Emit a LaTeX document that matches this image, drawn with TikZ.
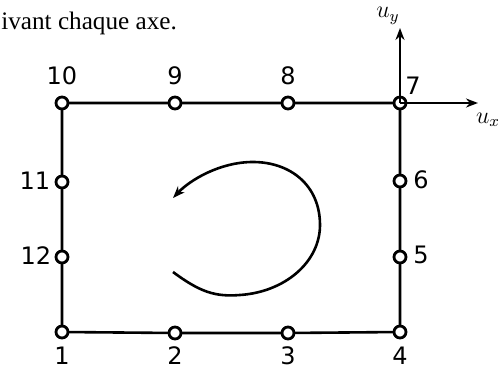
\documentclass[tikz,border=0pt]{standalone}
\usepackage{fontspec}
\setmainfont{Liberation Serif}
\newfontfamily\handfont{DejaVu Sans}
\usepackage{tikz}
\usetikzlibrary{arrows.meta}

\begin{document}
\begin{tikzpicture}[>={Stealth[length=6pt,width=4.5pt]}, x=0.5pt, y=-0.5pt, line width=1.3pt,
    pt/.style={circle, draw, line width=1.4pt, minimum size=6pt, inner sep=0pt},
    num/.style={font=\handfont\fontsize{12}{14}\selectfont, inner sep=1pt}]
  \useasboundingbox (0,0) rectangle (504,374);
  \node[anchor=base west, inner sep=0pt, font=\fontsize{12.6}{15}\selectfont] (txt) at (0,30) {ivant chaque axe.};
  % the twelve points round the frame
  \foreach \i/\x/\y in {1/62/332, 2/175/333, 3/288/333, 4/400/332, 5/400/257, 6/400/181,
                        7/400/103, 8/288/103, 9/175/103, 10/62/103, 11/62/182, 12/62/257}{
    \coordinate (c\i) at (\x,\y);
  }
  \draw (c1) -- (c2) -- (c3) -- (c4) -- (c5) -- (c6) -- (c7) -- (c8) -- (c9) -- (c10) -- (c11) -- (c12) -- cycle;
  \foreach \i in {1,...,12}{
    \node[pt, fill=white] (n\i) at (c\i) {};
  }
  % numbers
  \foreach \i/\x/\y in {1/62/356, 2/175/356, 3/288/356, 4/400/356, 5/421/255, 6/421/180,
                        7/413/86, 8/288/76, 9/175/76, 10/62/76, 11/35/181, 12/36/256}{
    \node[num] (l\i) at (\x,\y) {\i};
  }
  % axes
  \coordinate (uy) at (400,28);
  \coordinate (ux) at (478,103);
  \draw[->] (n7.center) -- (uy);
  \draw[->] (n7.center) -- (ux);
  \node[num, anchor=north] (ly) at (388,4) {$u_y$};
  \node[num] (lx) at (488,120) {$u_x$};
  % sense of travel
  \draw[->] (173,272) .. controls (200,292) and (215,297) .. (240,295)
    .. controls (285,292) and (320,262) .. (320,225)
    .. controls (320,185) and (290,162) .. (253,162)
    .. controls (220,162) and (190,180) .. (173,198);
\end{tikzpicture}
\end{document}
